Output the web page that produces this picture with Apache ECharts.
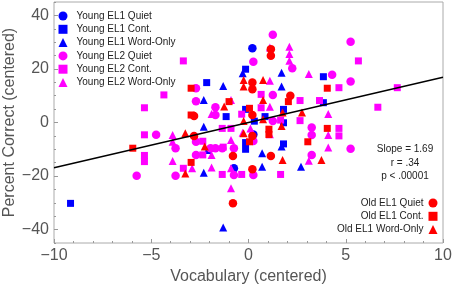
<!DOCTYPE html>
<html>
<head>
<meta charset="utf-8">
<script src="https://cdn.jsdelivr.net/npm/echarts@6/dist/echarts.min.js"></script>
<style>
  html, body { margin: 0; padding: 0; background: #fff; }
  #chart { width: 454px; height: 289px; }
</style>
</head>
<body>
<div id="chart"></div>
<script>
// points: [vocabulary, percent correct]
var youngEL1Quiet = [[0.2,27.7],[-0.75,-17.1],[0.25,-4.5]];
var youngEL1Cont = [[-2.15,14.9],[-1.15,2.2],[-0.15,19.9],[3.85,17.1],[3.85,7.4],[-0.15,4.9],[1.8,4.9],[0.85,2.2],
  [1.8,-0.1],[1.8,-8],[-0.15,-7.5],[-0.15,-10],[-9.15,-30.2],[0.3,0.5]];
var youngEL1Word = [[-1.3,13.6],[-2.3,8.4],[-2.3,-1.6],[-0.3,18.4],[1.7,18.6],[1.7,13.4],[0.7,-11.5],[0.7,-16.5],
  [2.7,-16.5],[-1.3,-39.2],[-2.1,-10.3],[-2.3,-18.8],[1.7,-9]];
var youngEL2Quiet = [[-2.7,12.8],[-2.7,7.9],[-1.7,5.7],[-1.7,2.8],[-4.75,-4.6],[-2.7,-7.2],[-3.75,-9.6],[1.25,32.8],
  [0.25,22.7],[5.25,30.2],[2.25,20.3],[4.3,17.8],[5.25,15.3],[1.25,10.3],[1.25,0.6],[3.25,-1.9],[3.25,-4.7],
  [0.25,-6.9],[-0.75,-9.6],[5.25,-9.8],[3.25,-12.1],[-0.75,-19.6],[0.25,-19.6],[-5.75,-19.9],[-3.75,-19.9],
  [-2.7,-12.1],[-1.7,-9.6],[-1.35,-9.6],[-1.95,-9.6]];
var youngEL2Cont = [[-3.35,23],[-4.35,10.3],[-5.35,5.5],[-5.35,-4.6],[5.65,23],[4.65,13],[7.65,13],[2.65,8.2],
  [3.65,8.2],[0.65,10.5],[0.65,5.5],[6.65,5.7],[-0.35,3.1],[2.65,0.7],[1.65,0.9],[4.65,-2.2],[4.65,-5],
  [-1.3,-9.2],[-1.35,-19.4],[-0.35,-19.4],[1.65,-19.4],[-5.35,-12.3],[-5.35,-14.6],[-3.35,-17.1],
  [-2.35,-12.1],[-2.35,-7],[-1.35,-2.2],[-0.9,-2.2]];
var youngEL2Word = [[1.1,28],[2.1,28.3],[2.1,25.6],[2.1,23.1],[3.1,18.1],[1.1,15.6],[-1.9,3.2],[-0.9,8.4],[1.1,5.9],
  [4.1,3.2],[-3.9,-4.7],[-3.9,-7.2],[-0.9,-6.5],[1.1,-4.4],[4.1,-4.7],[4.1,-9.3],[0.1,-2.2],[-0.3,-3.8],
  [-3.9,-14.4],[-2.9,-17.1],[-1.9,-12.1],[-1.9,-16.8],[3.1,-14.3],[-0.9,-17.1],[-0.9,-24.6]];
var oldEL1Quiet = [[1.15,27.4],[1.15,24.9],[0.2,14.9],[0.2,12.4],[2.15,10],[-2.8,2.4],[-2.8,-5],[0.2,2.8],[0.2,-5],
  [-0.8,-12.5],[1.15,-12.5],[0.2,-17.5],[-0.8,-30.2]];
var oldEL1Cont = [[-2.95,12.8],[-2.95,2.8],[-5.95,-9.6],[-2.95,-14.9],[4.05,12.8],[2.05,7.8],[-1,7.8],[0.05,5.3],
  [4.05,-2.2],[1.05,-2.5],[1.05,-4.5],[3.05,-7.2],[0.05,-7.2]];
var oldEL1Word = [[-1.25,6],[-3.25,-4],[-2.25,-9],[-3.25,-19],[-0.25,15.9],[-0.25,13.4],[0.75,15.9],[0.75,8.4],
  [1.75,3.7],[2.75,3.7],[0.75,1.2],[1.7,-1.3],[-0.25,-4],[-0.25,0.6],[1.75,-14],[3.75,-14]];

var slope = 1.69;
var intercept = 0;
var statsText = ['Slope = 1.69', 'r = .34', 'p < .00001'];
var xRange = [-10, 10];
var yRange = [-45, 45];
var yTicks = [-40, -20, 0, 20, 40];

var BLUE = '#0000ff', MAG = '#ff00ff', RED = '#ff0000';

function pts(name, data, color, symbol, size) {
    return {
        name: name,
        type: 'scatter',
        data: data,
        symbol: symbol,
        symbolSize: size,
        itemStyle: { color: color, opacity: 1 },
        emphasis: { disabled: true }
    };
}

var fit = xRange.map(function (x) { return [x, slope * x + intercept]; });

function minus(v) { return String(v).replace('-', '\u2212'); }

var font = 'Liberation Sans, Arial, sans-serif';

var option = {
    animation: false,
    textStyle: { fontFamily: font },
    grid: { left: 54, right: 11, top: 2, bottom: 46, show: true, borderColor: '#aaa', borderWidth: 1,
            outerBoundsMode: 'none', containLabel: false },
    xAxis: {
        type: 'value', min: xRange[0], max: xRange[1], interval: 5,
        name: 'Vocabulary (centered)', nameLocation: 'middle', nameGap: 26, nameMoveOverlap: false,
        nameTextStyle: { fontSize: 16, color: '#555', fontFamily: font },
        axisLine: { show: false, onZero: false },
        axisTick: { inside: true, length: 4, lineStyle: { color: '#999' } },
        minorTick: { show: true, splitNumber: 5, length: 2, lineStyle: { color: '#999' } },
        splitLine: { show: false },
        axisLabel: { fontSize: 16, color: '#555', margin: 5, formatter: minus, fontFamily: font }
    },
    yAxis: [{
        type: 'value', min: yRange[0], max: yRange[1], interval: 5,
        name: 'Percent Correct (centered)', nameLocation: 'middle', nameGap: 36, nameRotate: 90,
        nameMoveOverlap: false,
        nameTextStyle: { fontSize: 16, color: '#555', fontFamily: font },
        axisLine: { show: false, onZero: false },
        axisTick: { inside: true, length: 4, customValues: yTicks, lineStyle: { color: '#999' } },
        splitLine: { show: false },
        axisLabel: { fontSize: 16, color: '#555', margin: 5, customValues: yTicks, formatter: minus, fontFamily: font }
    }, {
        type: 'value', min: yRange[0], max: yRange[1], interval: 5, position: 'left', offset: 0,
        axisLine: { show: false, onZero: false },
        axisTick: { inside: true, length: 2, lineStyle: { color: '#999' } },
        splitLine: { show: false },
        axisLabel: { show: false }
    }],
    legend: [{
        orient: 'vertical', left: 58.5, top: 10, padding: 0, itemGap: 1.3,
        itemWidth: 9, itemHeight: 9,
        textStyle: { fontSize: 10, color: '#222', lineHeight: 12, fontFamily: font, padding: [0, 0, 0, 4] },
        data: ['Young EL1 Quiet', 'Young EL1 Cont.', 'Young EL1 Word-Only',
               'Young EL2 Quiet', 'Young EL2 Cont.', 'Young EL2 Word-Only'],
        selectedMode: false
    }, {
        orient: 'vertical', right: 16.5, top: 197, padding: 0, itemGap: 1.3, align: 'right',
        itemWidth: 9, itemHeight: 9,
        textStyle: { fontSize: 10, color: '#222', lineHeight: 12, fontFamily: font },
        data: ['Old EL1 Quiet', 'Old EL1 Cont.', 'Old EL1 Word-Only'],
        selectedMode: false
    }],
    graphic: [{
        type: 'text', x: 405, y: 143,
        style: { text: statsText.join('\n'), fill: '#222', font: '10px ' + font, textAlign: 'center', lineHeight: 13.3 }
    }],
    series: [
        pts('Young EL1 Quiet', youngEL1Quiet, BLUE, 'circle', 8.5),
        pts('Young EL1 Cont.', youngEL1Cont, BLUE, 'rect', 7),
        pts('Young EL1 Word-Only', youngEL1Word, BLUE, 'triangle', 8),
        pts('Young EL2 Quiet', youngEL2Quiet, MAG, 'circle', 8.5),
        pts('Young EL2 Cont.', youngEL2Cont, MAG, 'rect', 7),
        pts('Young EL2 Word-Only', youngEL2Word, MAG, 'triangle', 8),
        pts('Old EL1 Quiet', oldEL1Quiet, RED, 'circle', 8.5),
        pts('Old EL1 Cont.', oldEL1Cont, RED, 'rect', 7),
        pts('Old EL1 Word-Only', oldEL1Word, RED, 'triangle', 8),
        {
            type: 'line', data: fit, symbol: 'none', silent: true, z: 5,
            lineStyle: { color: '#000', width: 1.3 }
        }
    ]
};

var myChart = echarts.init(document.getElementById('chart'));
myChart.setOption(option);
</script>
</body>
</html>
